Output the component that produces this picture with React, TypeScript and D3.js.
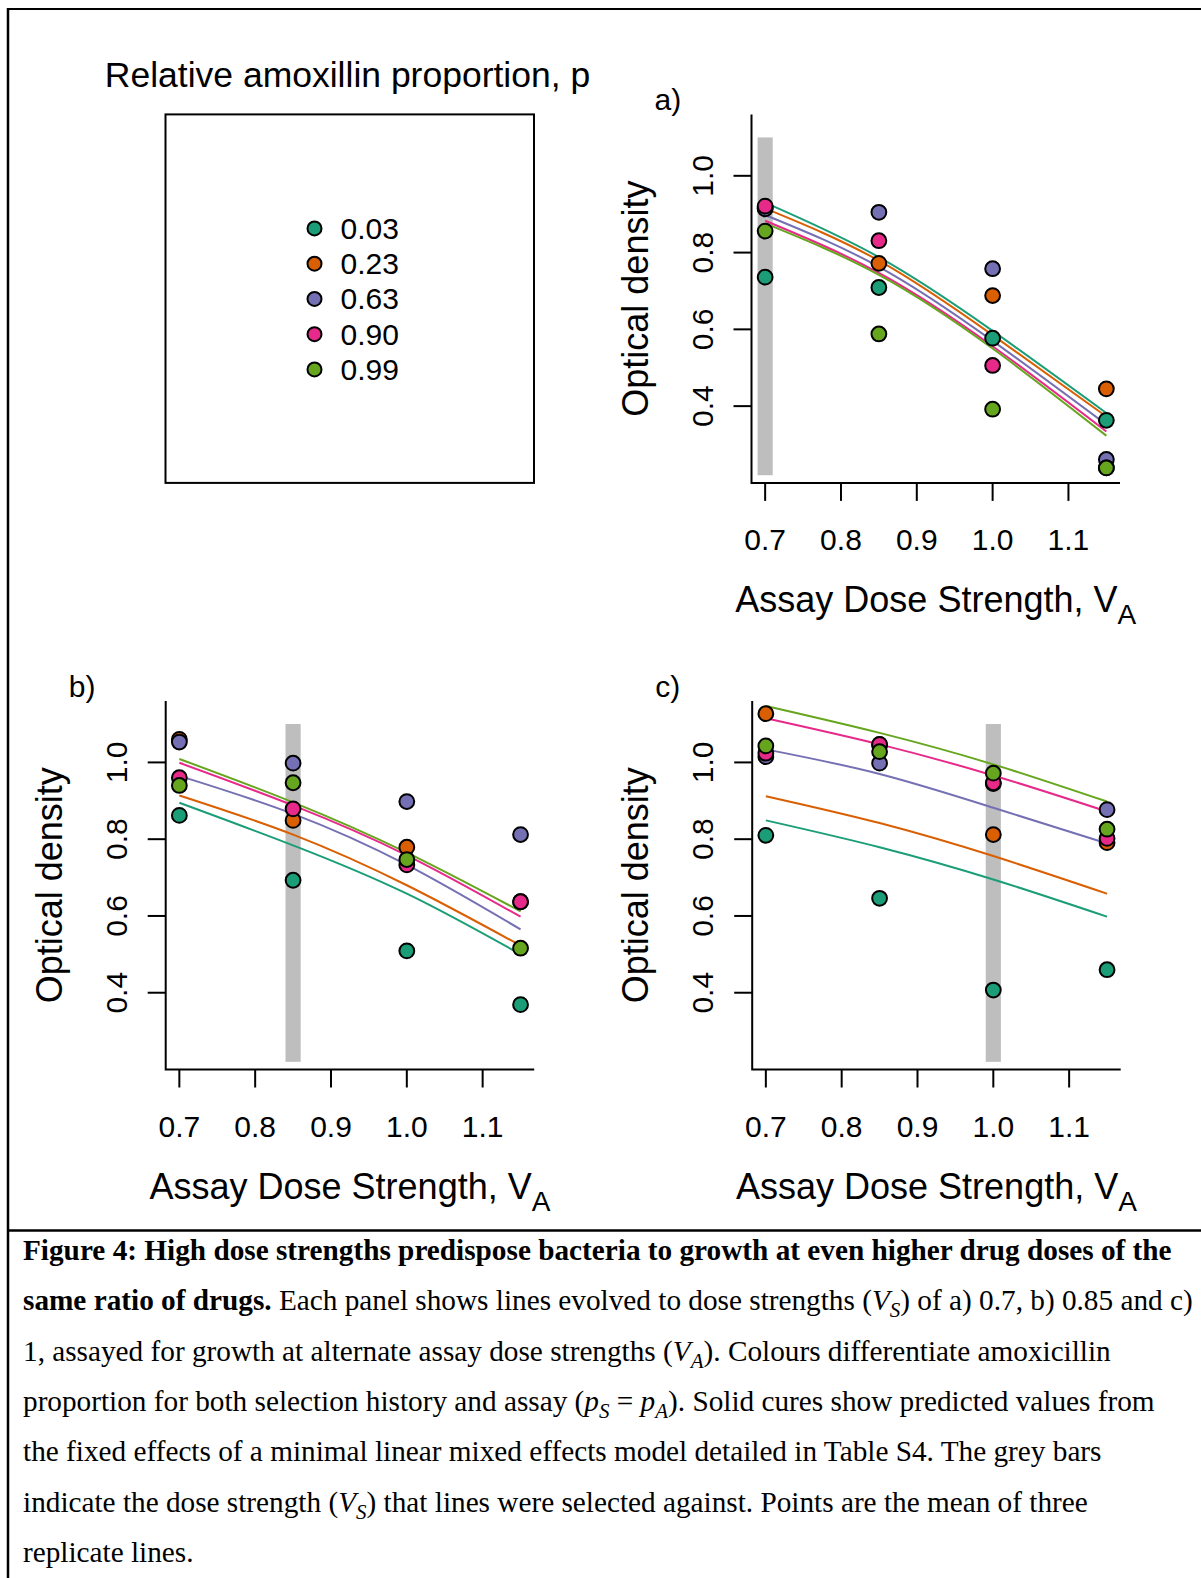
import React from "react";
import * as d3 from "d3";

// Relative amoxicillin proportions (p) and their Dark2 colours
const proportions = ["0.03", "0.23", "0.63", "0.90", "0.99"];
const colours = ["#1B9E77", "#D95F02", "#7570B3", "#E7298A", "#66A61E"];

// Assay dose strengths V_A at which growth was measured
const assayDoses = [0.7, 0.85, 1.0, 1.15];

// Axis ticks
const xTicks = [0.7, 0.8, 0.9, 1.0, 1.1];
const yTicks = [0.4, 0.6, 0.8, 1.0];

// Selection dose strengths V_S (grey bars) for panels a, b, c
const selectionDoses = [0.7, 0.85, 1.0];
const panelLabels = ["a)", "b)", "c)"];

// Mean optical density per proportion (rows) at each assay dose (columns)
const pointsA = [
  [0.736, 0.709, 0.577, 0.363],
  [0.916, 0.772, 0.688, 0.445],
  [0.914, 0.905, 0.758, 0.261],
  [0.921, 0.831, 0.506, 0.239],
  [0.856, 0.588, 0.392, 0.239],
];
const pointsB = [
  [0.862, 0.693, 0.509, 0.369],
  [1.060, 0.849, 0.779, 0.637],
  [1.053, 0.998, 0.898, 0.812],
  [0.960, 0.879, 0.733, 0.637],
  [0.940, 0.947, 0.747, 0.516],
];
const pointsC = [
  [0.810, 0.646, 0.407, 0.460],
  [1.127, 1.046, 0.812, 0.791],
  [1.015, 0.998, 0.945, 0.877],
  [1.024, 1.047, 0.947, 0.802],
  [1.043, 1.028, 0.972, 0.826],
];

// Model predictions (fixed effects) per proportion at each assay dose
const fitA = [
  [0.930, 0.788, 0.596, 0.382],
  [0.915, 0.779, 0.585, 0.373],
  [0.898, 0.763, 0.570, 0.352],
  [0.883, 0.747, 0.556, 0.334],
  [0.876, 0.742, 0.550, 0.323],
];
const fitB = [
  [0.895, 0.784, 0.658, 0.500],
  [0.914, 0.812, 0.680, 0.523],
  [0.965, 0.866, 0.733, 0.565],
  [0.999, 0.888, 0.758, 0.598],
  [1.009, 0.896, 0.765, 0.612],
];
const fitC = [
  [0.849, 0.779, 0.695, 0.598],
  [0.912, 0.842, 0.756, 0.658],
  [1.034, 0.970, 0.882, 0.789],
  [1.115, 1.047, 0.966, 0.872],
  [1.147, 1.077, 0.995, 0.898],
];

const greyBarRange = [0.22, 1.1];
const greyBarHalfWidth = 0.01;

type Seg = { t: string; b?: boolean; i?: boolean; sub?: boolean };
const captionLines: Seg[][] = [
  [{ t: "Figure 4: High dose strengths predispose bacteria to growth at even higher drug doses of the", b: true }],
  [
    { t: "same ratio of drugs.", b: true },
    { t: " Each panel shows lines evolved to dose strengths (" },
    { t: "V", i: true },
    { t: "S", i: true, sub: true },
    { t: ") of a) 0.7, b) 0.85 and c)" },
  ],
  [
    { t: "1, assayed for growth at alternate assay dose strengths (" },
    { t: "V", i: true },
    { t: "A", i: true, sub: true },
    { t: "). Colours differentiate amoxicillin" },
  ],
  [
    { t: "proportion for both selection history and assay (" },
    { t: "p", i: true },
    { t: "S", i: true, sub: true },
    { t: " = " },
    { t: "p", i: true },
    { t: "A", i: true, sub: true },
    { t: "). Solid cures show predicted values from" },
  ],
  [{ t: "the fixed effects of a minimal linear mixed effects model detailed in Table S4. The grey bars" }],
  [
    { t: "indicate the dose strength (" },
    { t: "V", i: true },
    { t: "S", i: true, sub: true },
    { t: ") that lines were selected against. Points are the mean of three" },
  ],
  [{ t: "replicate lines." }],
];

const SANS = "'Liberation Sans', Arial, Helvetica, sans-serif";
const SERIF = "'Liberation Serif', 'Times New Roman', Times, serif";

const PLOT = 368.5;
const xScale = d3.scaleLinear().domain([0.682, 1.168]).range([0, PLOT]);
const yScale = d3.scaleLinear().domain([0.2, 1.16]).range([PLOT, 0]);
const fmt = d3.format(".1f");

const lineGen = d3
  .line<number>()
  .x((_, i) => xScale(assayDoses[i]))
  .y((d) => yScale(d))
  .curve(d3.curveNatural);

function Panel({
  left,
  top,
  label,
  vs,
  points,
  fits,
}: {
  left: number;
  top: number;
  label: string;
  vs: number;
  points: number[][];
  fits: number[][];
}) {
  return (
    <g transform={`translate(${left},${top})`} fontFamily={SANS}>
      <rect
        x={xScale(vs - greyBarHalfWidth)}
        width={xScale(vs + greyBarHalfWidth) - xScale(vs - greyBarHalfWidth)}
        y={yScale(greyBarRange[1])}
        height={yScale(greyBarRange[0]) - yScale(greyBarRange[1])}
        fill="#BEBEBE"
      />
      {fits.map((f, k) => (
        <path key={k} d={lineGen(f) || ""} fill="none" stroke={colours[k]} strokeWidth={2} />
      ))}
      {points.map((row, k) =>
        row.map((v, j) => (
          <circle
            key={`${k}-${j}`}
            cx={xScale(assayDoses[j])}
            cy={yScale(v)}
            r={7.4}
            fill={colours[k]}
            stroke="#000"
            strokeWidth={2}
          />
        ))
      )}
      <path d={`M0,0V${PLOT}H${PLOT}`} fill="none" stroke="#000" strokeWidth={2} />
      {xTicks.map((t) => (
        <g key={t} transform={`translate(${xScale(t)},0)`}>
          <line y1={PLOT} y2={PLOT + 18} stroke="#000" strokeWidth={2} />
          <text y={PLOT + 67} textAnchor="middle" fontSize={30}>
            {fmt(t)}
          </text>
        </g>
      ))}
      {yTicks.map((t) => (
        <g key={t} transform={`translate(0,${yScale(t)})`}>
          <line x1={0} x2={-18} stroke="#000" strokeWidth={2} />
          <text transform="translate(-39,0) rotate(-90)" textAnchor="middle" fontSize={30}>
            {fmt(t)}
          </text>
        </g>
      ))}
      <text x={PLOT / 2} y={PLOT + 129} textAnchor="middle" fontSize={36}>
        Assay Dose Strength, V
        <tspan fontSize={28} dy={12}>
          A
        </tspan>
      </text>
      <text transform={`translate(-104,${PLOT / 2}) rotate(-90)`} textAnchor="middle" fontSize={36}>
        Optical density
      </text>
      <text x={-97} y={-4.4} fontSize={30}>
        {label}
      </text>
    </g>
  );
}

function Legend({ left, top }: { left: number; top: number }) {
  const rowY = d3.scaleLinear().domain([0, proportions.length - 1]).range([114, 255]);
  return (
    <g transform={`translate(${left},${top})`} fontFamily={SANS}>
      <rect x={0} y={0} width={PLOT} height={PLOT} fill="none" stroke="#000" strokeWidth={2} />
      <text x={182} y={-27} textAnchor="middle" fontSize={35.5}>
        Relative amoxillin proportion, p
      </text>
      {proportions.map((p, k) => (
        <g key={p} transform={`translate(0,${rowY(k)})`}>
          <circle cx={149} cy={0} r={7} fill={colours[k]} stroke="#000" strokeWidth={2} />
          <text x={175} y={10.5} fontSize={30}>
            {p}
          </text>
        </g>
      ))}
    </g>
  );
}

function CaptionLine({ segs, y }: { segs: Seg[]; y: number }) {
  let shifted = false;
  return (
    <text x={23} y={y} fontFamily={SERIF} fontSize={29.25} style={{ whiteSpace: "pre" }}>
      {segs.map((s, i) => {
        let dy = 0;
        if (s.sub && !shifted) {
          dy = 7;
          shifted = true;
        } else if (!s.sub && shifted) {
          dy = -7;
          shifted = false;
        }
        return (
          <tspan
            key={i}
            dy={dy || undefined}
            fontWeight={s.b ? "bold" : undefined}
            fontStyle={s.i ? "italic" : undefined}
            fontSize={s.sub ? 21 : undefined}
          >
            {s.t}
          </tspan>
        );
      })}
    </text>
  );
}

export default function App() {
  const panels = [
    { left: 751.5, top: 114.4, points: pointsA, fits: fitA },
    { left: 165.7, top: 701, points: pointsB, fits: fitB },
    { left: 752.2, top: 701, points: pointsC, fits: fitC },
  ];
  const captionY = d3.scaleLinear().domain([0, captionLines.length - 1]).range([1260, 1562]);
  return (
    <svg
      width={1201}
      height={1578}
      style={{ position: "absolute", left: 0, top: 0, background: "#fff" }}
    >
      <rect x={0} y={0} width={1201} height={1578} fill="#fff" />
      {/* outer frame and caption divider */}
      <line x1={8} y1={8} x2={8} y2={1578} stroke="#000" strokeWidth={2.5} />
      <line x1={7} y1={9} x2={1201} y2={9} stroke="#000" strokeWidth={2} />
      <line x1={7} y1={1230.5} x2={1201} y2={1230.5} stroke="#000" strokeWidth={2.5} />

      <Legend left={165.5} top={114.4} />
      {panels.map((p, k) => (
        <Panel
          key={k}
          left={p.left}
          top={p.top}
          label={panelLabels[k]}
          vs={selectionDoses[k]}
          points={p.points}
          fits={p.fits}
        />
      ))}
      {captionLines.map((segs, k) => (
        <CaptionLine key={k} segs={segs} y={captionY(k)} />
      ))}
    </svg>
  );
}
